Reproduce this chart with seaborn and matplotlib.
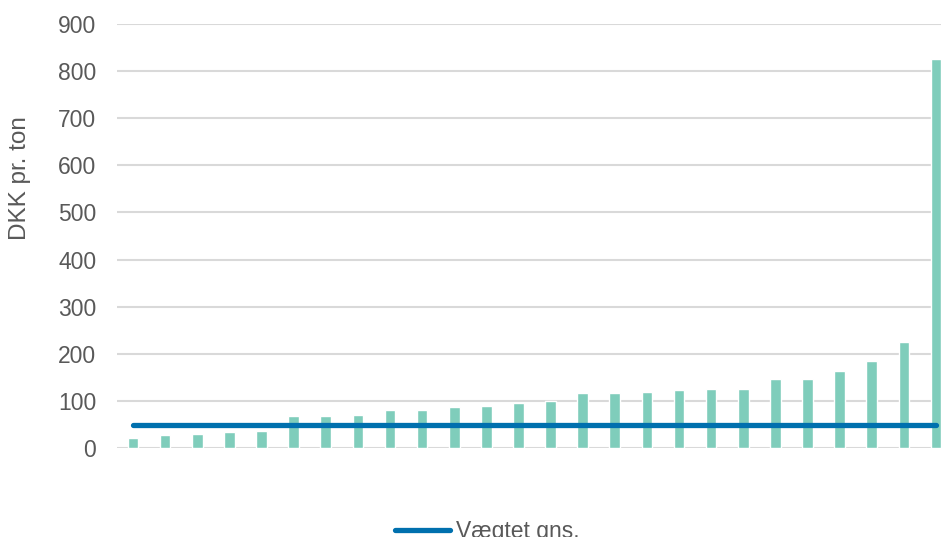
import matplotlib
matplotlib.use("Agg")
import matplotlib.pyplot as plt
import seaborn as sns
import pandas as pd


# =========================================================
# Data
# =========================================================

categories = list(range(26))
dkk_per_ton = [21, 28, 30, 33, 37, 67, 67, 69, 80, 80, 86, 89, 95, 99,
               117, 117, 119, 123, 125, 125, 146, 146, 163, 184, 225, 825]
weighted_avg = 49
y_ticks = [0, 100, 200, 300, 400, 500, 600, 700, 800, 900]

BAR_COLOR = "#7FCDBB"
LINE_COLOR = "#0070AE"
TEXT_COLOR = "#595959"
GRID_COLOR = "#D9D9D9"

df = pd.DataFrame({"cat": categories, "value": dkk_per_ton})
df_avg = pd.DataFrame({"cat": categories, "avg": [weighted_avg] * len(categories)})


# =========================================================
# Plot
# =========================================================

sns.set_theme(style="white")
plt.rcParams["font.family"] = ["Liberation Sans", "DejaVu Sans"]

fig = plt.figure(figsize=(9.41, 5.37), dpi=100)
ax = fig.add_axes([117 / 941, 1 - 448 / 537, 835 / 941, (448 - 24) / 537])

sns.barplot(data=df, x="cat", y="value", color=BAR_COLOR, saturation=1,
            width=0.33, ax=ax, zorder=2)

sns.lineplot(data=df_avg, x="cat", y="avg", color=LINE_COLOR, linewidth=3.8,
             ax=ax, zorder=3, label="Vægtet gns.", legend=False)
ax.lines[-1].set_solid_capstyle("round")

ax.set_ylim(0, 900)
ax.set_xlim(-0.5, len(categories) - 0.5)
ax.set_yticks(y_ticks)
ax.set_xticks([])
ax.set_xlabel("")
ax.set_ylabel("DKK pr. ton", fontsize=17.5, color=TEXT_COLOR)
# label sits above the axis middle in the original
ax.yaxis.set_label_coords(-0.103, 0.637)
ax.tick_params(axis="y", labelsize=16.5, colors=TEXT_COLOR, length=0, pad=15)

ax.grid(axis="y", color=GRID_COLOR, linewidth=1.5, zorder=0)
ax.set_axisbelow(True)
for spine in ax.spines.values():
    spine.set_visible(False)

handles, labels = ax.get_legend_handles_labels()
fig.legend(handles, labels, loc="center", bbox_to_anchor=(0.518, 0.01),
           frameon=False, fontsize=16.5, labelcolor=TEXT_COLOR,
           handlelength=2.4, handletextpad=0.25)

fig.savefig("out.png", dpi=100)
